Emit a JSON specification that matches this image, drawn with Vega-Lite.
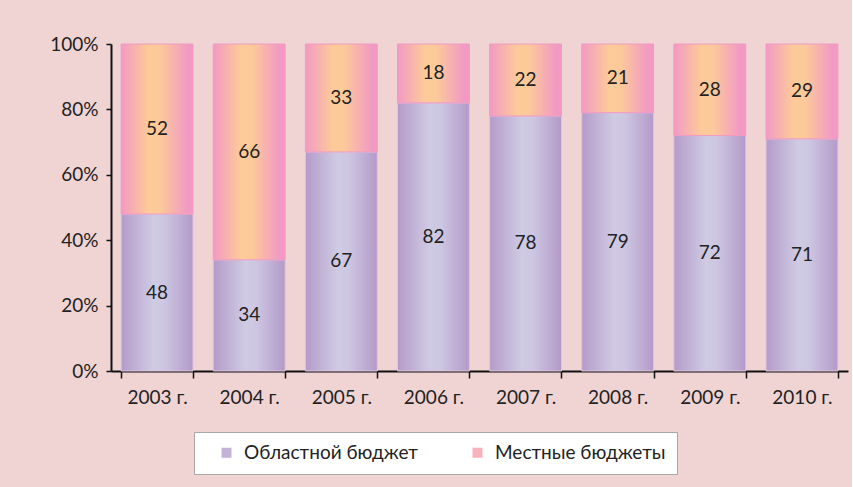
{
  "$schema": "https://vega.github.io/schema/vega-lite/v6.json",
  "width": 737,
  "height": 327,
  "padding": {"left": 49, "top": 35, "right": 4, "bottom": 20},
  "background": "#f0d4d4",
  "config": {
    "view": {"stroke": null},
    "font": "Lato"
  },
  "data": {
    "values": [
      {"year": "2003 г.", "series": "Областной бюджет", "value": 48, "ord": 1},
      {"year": "2003 г.", "series": "Местные бюджеты", "value": 52, "ord": 2},
      {"year": "2004 г.", "series": "Областной бюджет", "value": 34, "ord": 1},
      {"year": "2004 г.", "series": "Местные бюджеты", "value": 66, "ord": 2},
      {"year": "2005 г.", "series": "Областной бюджет", "value": 67, "ord": 1},
      {"year": "2005 г.", "series": "Местные бюджеты", "value": 33, "ord": 2},
      {"year": "2006 г.", "series": "Областной бюджет", "value": 82, "ord": 1},
      {"year": "2006 г.", "series": "Местные бюджеты", "value": 18, "ord": 2},
      {"year": "2007 г.", "series": "Областной бюджет", "value": 78, "ord": 1},
      {"year": "2007 г.", "series": "Местные бюджеты", "value": 22, "ord": 2},
      {"year": "2008 г.", "series": "Областной бюджет", "value": 79, "ord": 1},
      {"year": "2008 г.", "series": "Местные бюджеты", "value": 21, "ord": 2},
      {"year": "2009 г.", "series": "Областной бюджет", "value": 72, "ord": 1},
      {"year": "2009 г.", "series": "Местные бюджеты", "value": 28, "ord": 2},
      {"year": "2010 г.", "series": "Областной бюджет", "value": 71, "ord": 1},
      {"year": "2010 г.", "series": "Местные бюджеты", "value": 29, "ord": 2}
    ]
  },
  "encoding": {
    "x": {
      "field": "year", "type": "nominal",
      "scale": {"paddingInner": 0.22, "paddingOuter": 0.11},
      "axis": {
        "title": null, "labelAngle": 0, "labelFontSize": 19, "labelColor": "#222222",
        "labelPadding": 10, "domainColor": "#111111", "domainWidth": 2,
        "tickColor": "#111111", "tickWidth": 1.5, "tickSize": 7, "tickBand": "extent"
      }
    },
    "y": {
      "field": "value", "type": "quantitative", "stack": "normalize",
      "scale": {"domain": [0, 1]},
      "axis": {
        "title": null, "format": ".0%", "values": [0, 0.2, 0.4, 0.6, 0.8, 1],
        "labelFontSize": 19, "labelColor": "#222222", "labelPadding": 8,
        "domainColor": "#111111", "domainWidth": 2, "tickColor": "#111111",
        "tickWidth": 1.5, "tickSize": 5, "grid": false
      }
    },
    "order": {"field": "ord", "type": "quantitative"}
  },
  "layer": [
    {
      "mark": {"type": "bar"},
      "encoding": {
        "color": {
          "field": "series", "type": "nominal",
          "scale": {
            "domain": ["Областной бюджет", "Местные бюджеты"],
            "range": ["#c2b2d8", "#f7b2bc"]
          },
          "legend": {
            "title": null, "orient": "none", "direction": "horizontal",
            "legendX": 83, "legendY": 388,
            "fillColor": "#ffffff", "strokeColor": "#a8a8a8",
            "padding": 11, "symbolType": "square", "symbolSize": 100,
            "symbolStrokeWidth": 1, "symbolOpacity": 1,
            "labelFontSize": 19, "labelColor": "#222222", "labelOffset": 8,
            "labelLimit": 400, "columnPadding": 38, "symbolOffset": 12
          }
        }
      }
    },
    {
      "mark": {"type": "bar", "strokeWidth": 1},
      "encoding": {
        "color": {
          "condition": {
            "test": "datum.ord == 1",
            "value": {"gradient": "linear", "x1": 0, "y1": 0, "x2": 1, "y2": 0,
              "stops": [
                {"offset": 0, "color": "#b49bc9"},
                {"offset": 0.45, "color": "#cfcbe4"},
                {"offset": 0.6, "color": "#cdc6e2"},
                {"offset": 1, "color": "#b39ac9"}
              ]}
          },
          "value": {"gradient": "linear", "x1": 0, "y1": 0, "x2": 1, "y2": 0,
            "stops": [
              {"offset": 0, "color": "#f29ac4"},
              {"offset": 0.38, "color": "#fdca98"},
              {"offset": 0.55, "color": "#fcc99a"},
              {"offset": 0.92, "color": "#f29ac4"},
              {"offset": 1, "color": "#f29ac4"}
            ]}
        },
        "stroke": {
          "condition": {"test": "datum.ord == 1", "value": "#e2c4dc"},
          "value": "#f29ac4"
        }
      }
    },
    {
      "mark": {"type": "text", "fontSize": 19, "color": "#222222"},
      "encoding": {
        "y": {"field": "value", "type": "quantitative", "stack": "normalize", "bandPosition": 0.5},
        "text": {"field": "value", "type": "quantitative"}
      }
    }
  ]
}
